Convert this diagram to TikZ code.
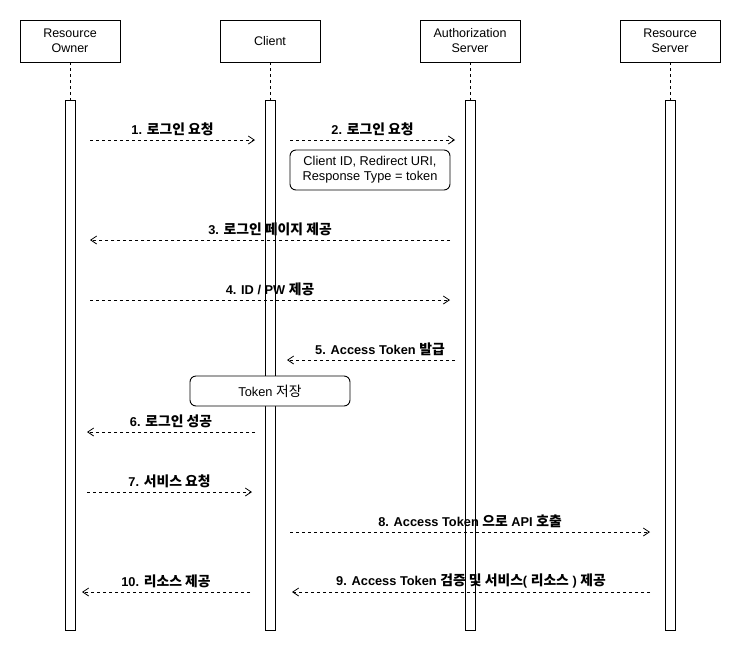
\documentclass[tikz,border=0pt]{standalone}
\usepackage{fontspec}
\setmainfont{Liberation Sans}
\newfontfamily\kr[Scale=1.08]{Noto Sans CJK KR}
\usetikzlibrary{arrows.meta}
\tikzset{
  actor/.style={draw, line width=0.9pt, minimum width=100pt, minimum height=42pt, align=center, inner sep=1pt, font=\fontsize{12.5}{15}\selectfont},
  actbar/.style={draw, line width=0.9pt, fill=white, minimum width=10pt, minimum height=530pt, inner sep=0pt},
  life/.style={dashed, line width=0.7pt, dash pattern=on 3pt off 3pt},
  msg/.style={line width=0.7pt, dash pattern=on 3pt off 3pt, -{Straight Barb[length=6pt,width=8pt,line width=0.8pt]}},
  lbl/.style={midway, above=3pt, inner sep=1pt, font=\fontsize{12.8}{15}\selectfont\bfseries},
  note/.style={draw, line width=0.9pt, rounded corners=6pt, fill=white, align=center, font=\fontsize{12.8}{15}\selectfont, inner sep=2pt}
}
\begin{document}
\begin{tikzpicture}[x=1pt,y=-1pt]
\useasboundingbox (0,0) rectangle (741,651);
% actors
\node[actor] (ro) at (70,41) {Resource\\Owner};
\node[actor] (cl) at (270,41) {Client};
\node[actor] (as) at (470,41) {Authorization\\Server};
\node[actor] (rs) at (670,41) {Resource\\Server};
% activation bars
\node[actbar] (roa) at (70,365) {};
\node[actbar] (cla) at (270,365) {};
\node[actbar] (asa) at (470,365) {};
\node[actbar] (rsa) at (670,365) {};
\draw[life] (ro.south) -- (roa.north);
\draw[life] (cl.south) -- (cla.north);
\draw[life] (as.south) -- (asa.north);
\draw[life] (rs.south) -- (rsa.north);
% message end points
\coordinate (m1a) at (90,140);  \coordinate (m1b) at (255,140);
\coordinate (m2a) at (290,140); \coordinate (m2b) at (455,140);
\coordinate (m3a) at (450,240); \coordinate (m3b) at (90,240);
\coordinate (m4a) at (90,300);  \coordinate (m4b) at (450,300);
\coordinate (m5a) at (455,360); \coordinate (m5b) at (287,360);
\coordinate (m6a) at (255,432); \coordinate (m6b) at (87,432);
\coordinate (m7a) at (87,492);  \coordinate (m7b) at (252,492);
\coordinate (m8a) at (290,532); \coordinate (m8b) at (650,532);
\coordinate (m9a) at (650,592); \coordinate (m9b) at (292,592);
\coordinate (m10a) at (250,592); \coordinate (m10b) at (82,592);
% messages
\draw[msg] (m1a) -- (m1b) node[lbl] {1. {\kr 로그인 요청}};
\draw[msg] (m2a) -- (m2b) node[lbl] {2. {\kr 로그인 요청}};
\node[note, minimum width=160pt, minimum height=40pt] (n1) at (370,170) {Client ID, Redirect URI,\\Response Type = token};
\draw[msg] (m3a) -- (m3b) node[lbl] {3. {\kr 로그인 페이지 제공}};
\draw[msg] (m4a) -- (m4b) node[lbl] {4. ID / PW {\kr 제공}};
\draw[msg] (m5a) -- (m5b) node[lbl, xshift=9pt] {5. Access Token {\kr 발급}};
\node[note, minimum width=160pt, minimum height=30pt] (n2) at (270,391) {Token {\kr 저장}};
\draw[msg] (m6a) -- (m6b) node[lbl] {6. {\kr 로그인 성공}};
\draw[msg] (m7a) -- (m7b) node[lbl] {7. {\kr 서비스 요청}};
\draw[msg] (m8a) -- (m8b) node[lbl] {8. Access Token {\kr 으로} API {\kr 호출}};
\draw[msg] (m9a) -- (m9b) node[lbl] {9. Access Token {\kr 검증 및 서비스}( {\kr 리소스} ) {\kr 제공}};
\draw[msg] (m10a) -- (m10b) node[lbl] {10. {\kr 리소스 제공}};
\end{tikzpicture}
\end{document}
